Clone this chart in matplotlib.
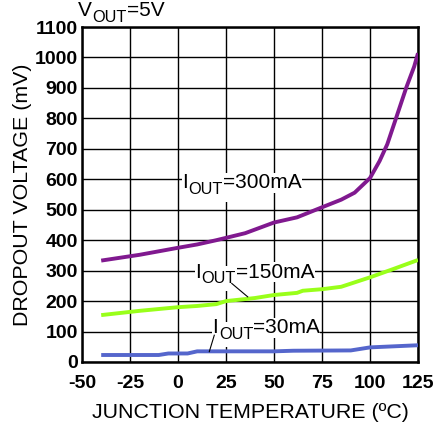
import matplotlib
matplotlib.use("Agg")
import matplotlib.pyplot as plt

plt.rcParams['font.family'] = ['Liberation Sans', 'DejaVu Sans']
plt.rcParams['axes.unicode_minus'] = False

# junction temperature (C) and dropout voltage (mV)
temp_300 = [-40, -20, 0, 10, 20, 35, 50, 62, 75, 85, 92, 100, 105, 109, 113, 119, 123, 125]
drop_300 = [333, 352, 375, 386, 400, 423, 458, 475, 508, 533, 556, 604, 660, 715, 790, 903, 970, 1014]

temp_150 = [-40, -20, 0, 10, 20, 25, 40, 50, 62, 65, 75, 85, 100, 112, 125]
drop_150 = [154, 168, 180, 184, 190, 200, 210, 220, 227, 234, 239, 247, 278, 305, 335]

temp_30 = [-40, -10, -5, 5, 10, 50, 60, 90, 100, 125]
drop_30 = [23, 23, 28, 28, 35, 35, 37, 38, 48, 55]

x_ticks = [-50, -25, 0, 25, 50, 75, 100, 125]
y_ticks = list(range(0, 1101, 100))

fig = plt.figure(figsize=(4.35, 4.28), dpi=100)
ax = fig.add_axes([82 / 435, 1 - 362 / 428, 336 / 435, 335 / 428])

ax.plot(temp_300, drop_300, color='#80198F', lw=2.8, solid_capstyle='butt', zorder=3)
ax.plot(temp_150, drop_150, color='#99FF1A', lw=2.8, solid_capstyle='butt', zorder=3)
ax.plot(temp_30, drop_30, color='#5566CC', lw=2.8, solid_capstyle='butt', zorder=3)

ax.set_xlim(-50, 125)
ax.set_ylim(0, 1100)
ax.set_xticks(x_ticks)
ax.set_yticks(y_ticks)
ax.grid(True, color='black', lw=1.0)
ax.set_axisbelow(True)
ax.tick_params(axis='x', length=0, pad=9, labelsize=14)
ax.tick_params(axis='y', length=0, pad=3, labelsize=14)
for lab in ax.get_xticklabels() + ax.get_yticklabels():
    lab.set_fontweight('bold')
for s in ax.spines.values():
    s.set_linewidth(1.8)

ax.set_xlabel('JUNCTION TEMPERATURE (ºC)', fontsize=15.4, labelpad=8)
ax.set_ylabel('DROPOUT VOLTAGE (mV)', fontsize=15.4, labelpad=2)


def sub_label(x, y, main, sub, rest, fs, boxed=True):
    box = dict(facecolor='white', edgecolor='none', pad=0.3) if boxed else None
    sub_box = dict(facecolor='white', edgecolor='none', pad=3.5) if boxed else None
    t1 = ax.text(x, y, main, fontsize=fs, ha='left', va='baseline',
                 bbox=box, zorder=4, clip_on=False)
    t2 = ax.annotate(sub, xy=(1, y), xycoords=(t1, 'data'), xytext=(0.5, -4),
                     textcoords='offset points', fontsize=fs * 0.78,
                     ha='left', va='baseline', bbox=sub_box, zorder=3.9,
                     annotation_clip=False)
    ax.annotate(rest, xy=(1, y), xycoords=(t2, 'data'), xytext=(0, 0),
                textcoords='offset points', fontsize=fs, ha='left',
                va='baseline', bbox=box, zorder=4, annotation_clip=False)


sub_label(-52, 1135, 'V', 'OUT', '=5V', 15, boxed=False)
sub_label(2.1, 571, 'I', 'OUT', '=300mA', 15)
sub_label(8.9, 277, 'I', 'OUT', '=150mA', 15)
sub_label(17.9, 94, 'I', 'OUT', '=30mA', 15)
ax.plot([28.0, 36.3], [258, 214], color='black', lw=0.8, zorder=4)
ax.plot([18.9, 16.3], [88, 34], color='black', lw=0.8, zorder=4)

fig.savefig('out.png', dpi=100)
